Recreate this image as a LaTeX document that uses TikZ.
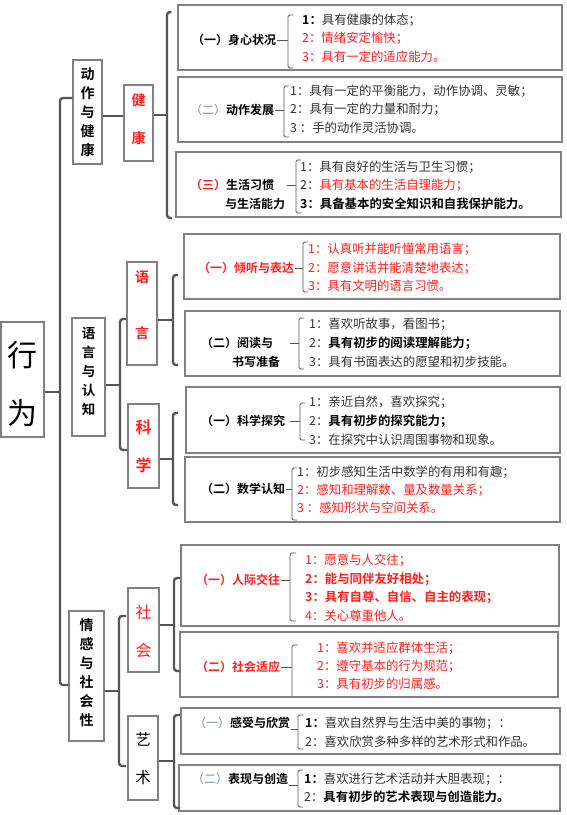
\documentclass[tikz,border=0pt]{standalone}
\usepackage{fontspec}
\setmainfont{Noto Sans CJK SC}[BoldFont={Noto Sans CJK SC Bold}]
\usetikzlibrary{fit}
\definecolor{boxc}{HTML}{808080}
\definecolor{linec}{HTML}{555555}
\definecolor{txt}{HTML}{333333}
\definecolor{rd}{HTML}{FF1E1E}
\definecolor{paren}{HTML}{7F8A9A}
\begin{document}
\begin{tikzpicture}[x=1pt,y=-1pt,
  box/.style={draw=boxc, line width=1.1pt, inner sep=0pt},
  vtext/.style={align=center, inner sep=0pt},
  item/.style={anchor=west, inner sep=0pt, text=txt, font=\fontsize{12.4}{14}\selectfont},
  lab/.style={anchor=west, inner sep=1pt, font=\bfseries\fontsize{12}{14}\selectfont},
  trunk/.style={draw=linec, line width=2.4pt, rounded corners=3pt},
  ib/.style={draw=linec, line width=0.8pt, rounded corners=1.5pt}]
\fill[white] (0,0) rectangle (566,815);
\useasboundingbox (0,0) rectangle (566,815);

% ---------- level 0 ----------
\node[box, fit={(1,322)(44,437)}] (xw) {};
\node[vtext, font=\fontsize{30}{58}\selectfont] (xwt) at (22.5,384) {行\\为};

% ---------- level 1 ----------
\node[box, fit={(73,60)(102,164)}] (dz) {};
\node[vtext, font=\bfseries\fontsize{14}{19}\selectfont] (dzt) at (87.5,112) {动\\作\\与\\健\\康};
\node[box, fit={(72,318)(105,436)}] (yr) {};
\node[vtext, font=\bfseries\fontsize{13.5}{19}\selectfont] (yrt) at (88.5,371) {语\\言\\与\\认\\知};
\node[box, fit={(69,611)(104,741)}] (qg) {};
\node[vtext, font=\bfseries\fontsize{14}{19}\selectfont] (qgt) at (86.5,673) {情\\感\\与\\社\\会\\性};

% ---------- level 2 ----------
\node[box, fit={(124,85)(153,161)}] (jk) {};
\node[vtext, text=rd, font=\bfseries\fontsize{14}{38}\selectfont] (jkt) at (138.5,119) {健\\康};
\node[box, fit={(127,262)(157,365)}] (yy) {};
\node[vtext, text=rd, font=\bfseries\fontsize{14}{56}\selectfont] (yyt) at (142,305) {语\\言};
\node[box, fit={(128,404)(159,488)}] (kx) {};
\node[vtext, text=rd, font=\bfseries\fontsize{16}{38}\selectfont] (kxt) at (143.5,446) {科\\学};
\node[box, fit={(128,588)(159,672)}] (sh) {};
\node[vtext, text=rd, font=\fontsize{16}{38}\selectfont] (sht) at (143.5,631) {社\\会};
\node[box, fit={(128,716)(158,800)}] (ys) {};
\node[vtext, font=\fontsize{15.5}{38}\selectfont] (yst) at (143,759) {艺\\术};

% ---------- level 3 boxes ----------
\node[box, fit={(178,5)(562,70)}] (jk1) {};
\node[box, fit={(178,77)(562,142)}] (jk2) {};
\node[box, fit={(176,152)(561,217)}] (jk3) {};
\node[box, fit={(184,234)(560,299)}] (yy1) {};
\node[box, fit={(185,311)(560,376)}] (yy2) {};
\node[box, fit={(186,387)(560,453)}] (kx1) {};
\node[box, fit={(185,457)(560,522)}] (kx2) {};
\node[box, fit={(181,545)(559,626)}] (sh1) {};
\node[box, fit={(180,632)(558,697)}] (sh2) {};
\node[box, fit={(181,708)(560,754)}] (ys1) {};
\node[box, fit={(179,765)(560,811)}] (ys2) {};

% ---------- trunk and brackets ----------
\draw[trunk] (dz.west |- 0,98) -- (60,98) -- (60,685) -- (qg.west |- 0,685);
\draw[trunk] (xw.east |- 0,392) -- (60,392);

\draw[trunk] (dz.east |- 0,116) -- (jk.west |- 0,116);
\draw[trunk] (jk.east |- 0,115) -- (167,115);
\draw[trunk] (jk1.west |- 0,12) ++(-6,0) -- (167,12) -- (167,218) -- (172,218);

\draw[trunk] (yr.east |- 0,385) -- (120,385);
\draw[trunk] (yy.west |- 0,319) -- (120,319) -- (120,450) -- (kx.west |- 0,450);
\draw[trunk] (yy.east |- 0,320) -- (173,320);
\draw[trunk] (178,275) -- (173,275) -- (173,365) -- (178,365);
\draw[trunk] (kx.east |- 0,459) -- (173,459);
\draw[trunk] (178,413) -- (173,413) -- (173,505) -- (178,505);

\draw[trunk] (qg.east |- 0,691) -- (119,691);
\draw[trunk] (126,616) -- (119,616) -- (119,766) -- (126,766);
\draw[trunk] (sh.east |- 0,625) -- (174,625);
\draw[trunk] (180,578) -- (174,578) -- (174,671) -- (180,671);
\draw[trunk] (ys.east |- 0,761) -- (174,761);
\draw[trunk] (180,715) -- (174,715) -- (174,808) -- (180,808);

% ---------- 健康 (一) ----------
\node[lab] (jk1l) at (191,40) {（一）身心状况};
\draw[ib] (jk1l.east) -- (jk1l.east -| 288,0);
\draw[ib] (293,15) -- (288,15) -- (288,68) -- (293,68);
\node[item] (jk1a) at (302,20) {\textbf{\color{black}1：}具有健康的体态；};
\node[item, text=rd] (jk1b) at (302,38) {2：情绪安定愉快；};
\node[item, text=rd] (jk1c) at (302,57) {3：具有一定的适应能力。};

% ---------- 健康 (二) ----------
\node[lab] (jk2l) at (189,110) {\mdseries\color{paren}（二）\bfseries\color{black}动作发展};
\draw[ib] (jk2l.east) -- (jk2l.east -| 284,0);
\draw[ib] (289,86) -- (284,86) -- (284,137) -- (289,137);
\node[item] (jk2a) at (290,91) {1：具有一定的平衡能力，动作协调、灵敏；};
\node[item] (jk2b) at (290,109) {2：具有一定的力量和耐力；};
\node[item] (jk2c) at (290,128) {3 ：手的动作灵活协调。};

% ---------- 健康 (三) ----------
\node[lab] (jk3l) at (189,185) {\color{rd}（三）\color{black}生活习惯};
\node[lab] (jk3m) at (224,204) {与生活能力};
\draw[ib] (jk3l.east -| 287,0) -- (jk3l.east -| 296,0);
\draw[ib] (301,160) -- (296,160) -- (296,213) -- (301,213);
\node[item] (jk3a) at (300,167) {1：具有良好的生活与卫生习惯；};
\node[item] (jk3b) at (300,185) {2：\textcolor{rd}{具有基本的生活自理能力；}};
\node[item, text=black] (jk3c) at (300,204) {\bfseries 3：具备基本的安全知识和自我保护能力。};

% ---------- 语言 (一) ----------
\node[lab, text=rd] (yy1l) at (197,268) {（一）倾听与表达};
\draw[ib] (yy1l.east) -- (yy1l.east -| 303,0);
\draw[ib] (308,242) -- (303,242) -- (303,292) -- (308,292);
\node[item, text=rd] (yy1a) at (308,249) {1：认真听并能听懂常用语言；};
\node[item, text=rd] (yy1b) at (308,268) {2：愿意讲话并能清楚地表达；};
\node[item, text=rd] (yy1c) at (308,286) {3：具有文明的语言习惯。};

% ---------- 语言 (二) ----------
\node[lab] (yy2l) at (200,343) {（二）阅读与};
\node[lab] (yy2m) at (231,362) {书写准备};
\draw[ib] (yy2l.east -| 290,0) -- (yy2l.east -| 299,0);
\draw[ib] (304,318) -- (299,318) -- (299,369) -- (304,369);
\node[item] (yy2a) at (309,324) {1：喜欢听故事，看图书；};
\node[item] (yy2b) at (309,343) {2：\textbf{\color{black}具有初步的阅读理解能力；}};
\node[item] (yy2c) at (309,362) {3：具有书面表达的愿望和初步技能。};

% ---------- 科学 (一) ----------
\node[lab] (kx1l) at (200,421) {（一）科学探究};
\draw[ib] (kx1l.east -| 290,0) -- (kx1l.east -| 300,0);
\draw[ib] (305,403) -- (300,403) -- (300,440) -- (305,440);
\node[item] (kx1a) at (309,402) {1：亲近自然，喜欢探究；};
\node[item] (kx1b) at (309,421) {2：\textbf{\color{black}具有初步的探究能力；}};
\node[item] (kx1c) at (309,440) {3：在探究中认识周围事物和现象。};

% ---------- 科学 (二) ----------
\node[lab] (kx2l) at (200,489) {（二）数学认知};
\draw[ib] (kx2l.east) -- (kx2l.east -| 292,0);
\draw[ib] (297,468) -- (292,468) -- (292,520) -- (297,520);
\node[item] (kx2a) at (297,472) {1：初步感知生活中数学的有用和有趣；};
\node[item, text=rd] (kx2b) at (297,490) {2：感知和理解数、量及数量关系；};
\node[item, text=rd] (kx2c) at (297,508) {3 ：感知形状与空间关系。};

% ---------- 社会 (一) ----------
\node[lab, text=rd] (sh1l) at (195,580) {（一）人际交往};
\draw[ib] (sh1l.east) -- (sh1l.east -| 290,0);
\draw[ib] (296,553) -- (290,553) -- (290,621) -- (296,621);
\node[item, text=rd] (sh1a) at (305,560) {1：愿意与人交往；};
\node[item, text=rd] (sh1b) at (305,579) {\bfseries 2：能与同伴友好相处；};
\node[item, text=rd] (sh1c) at (305,597) {\bfseries 3：具有自尊、自信、自主的表现；};
\node[item, text=rd] (sh1d) at (305,616) {4：关心尊重他人。};

% ---------- 社会 (二) ----------
\node[lab, text=rd] (sh2l) at (195,667) {（二）社会适应};
\draw[ib] (sh2l.east) -- (sh2l.east -| 292,0);
\draw[ib] (298,645) -- (292,645) -- (292,696);
\node[item, text=rd] (sh2a) at (317,648) {1：喜欢并适应群体生活；};
\node[item, text=rd] (sh2b) at (317,666) {2：遵守基本的行为规范；};
\node[item, text=rd] (sh2c) at (317,684) {3：具有初步的归属感。};

% ---------- 艺术 (一) ----------
\node[lab] (ys1l) at (193,723) {\mdseries\color{paren}（一）\bfseries\color{black}感受与欣赏};
\draw[ib] (ys1l.south east) ++(0,-1) coordinate (ys1k) -- (ys1k -| 298,0);
\draw[ib] (303,715) -- (298,715) -- (298,749) -- (303,749);
\node[item] (ys1a) at (305,723) {\textbf{\color{black}1：}喜欢自然界与生活中美的事物；：};
\node[item] (ys1b) at (305,742) {2：喜欢欣赏多种多样的艺术形式和作品。};

% ---------- 艺术 (二) ----------
\node[lab] (ys2l) at (191,779) {\mdseries\color{paren}（二）\bfseries\color{black}表现与创造};
\draw[ib] (ys2l.south east) ++(0,-1) coordinate (ys2k) -- (ys2k -| 298,0);
\draw[ib] (303,770) -- (298,770) -- (298,807) -- (303,807);
\node[item] (ys2a) at (304,779) {\textbf{\color{black}1：}喜欢进行艺术活动并大胆表现；：};
\node[item] (ys2b) at (304,797) {2：\textbf{\color{black}具有初步的艺术表现与创造能力。}};
\end{tikzpicture}
\end{document}
